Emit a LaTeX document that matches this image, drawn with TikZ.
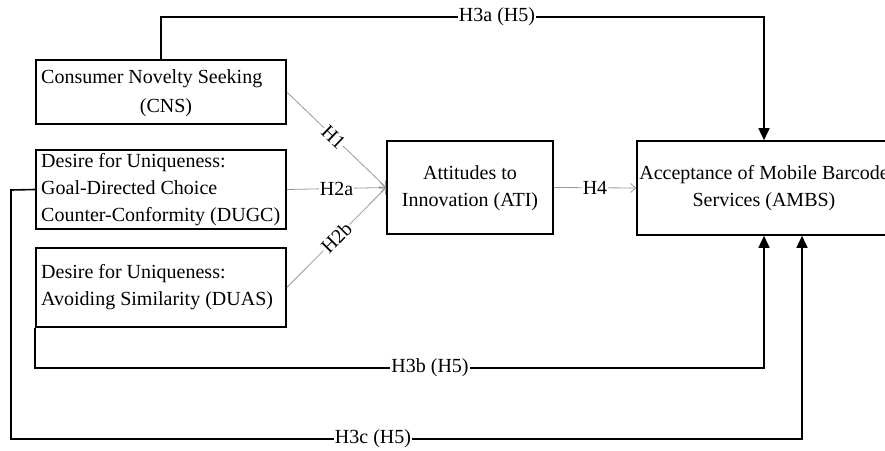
\documentclass[tikz,border=0pt]{standalone}
\usepackage{fontspec}
\setmainfont{Liberation Serif}
\usetikzlibrary{arrows.meta}
\begin{document}
\begin{tikzpicture}[x=1pt,y=-1pt,
  box/.style={draw, line width=1.6pt, inner sep=0pt, minimum width=#1},
  txt/.style={font=\fontsize{20}{27}\selectfont, inner sep=0pt},
  conn/.style={line width=1.6pt, -{Triangle[length=12pt,width=11pt]}},
  hyp/.style={draw=black!40, line width=0.8pt, -{Straight Barb[length=5pt,width=9pt]}},
  lab/.style={font=\fontsize{20}{24}\selectfont, fill=white, inner sep=1pt}]
\useasboundingbox (0,0) rectangle (885,450);
\clip (0,0) rectangle (885,450);
% boxes
\node[box=250pt, minimum height=64pt] (cns) at (161,92) {};
\node[box=250pt, minimum height=79pt] (dugc) at (161,189.5) {};
\node[box=250pt, minimum height=79pt] (duas) at (161,287.5) {};
\node[box=166pt, minimum height=93pt] (ati) at (470,187.5) {};
\node[box=254pt, minimum height=94pt] (ambs) at (764,188) {};
% texts
\node[txt, anchor=west] (cnsa) at (41,79) {Consumer Novelty Seeking};
\node[txt] (cnsb) at (166,108) {(CNS)};
\node[txt, anchor=west, align=left] (dugct) at (41,190) {Desire for Uniqueness:\\Goal-Directed Choice\\Counter-Conformity (DUGC)};
\node[txt, anchor=west, align=left] (duast) at (41,287) {Desire for Uniqueness:\\Avoiding Similarity (DUAS)};
\node[txt, align=center] (atit) at (470,188) {Attitudes to\\Innovation (ATI)};
\node[txt, align=center] (ambst) at (764,188) {Acceptance of Mobile Barcode\\Services (AMBS)};
% hypothesis arrows
\draw[hyp] (cns.east) -- node[lab, sloped, pos=0.47] (h1) {H1} (ati.west);
\draw[hyp] (dugc.east) -- node[lab, pos=0.5] (h2a) {H2a} (ati.west);
\draw[hyp] (duas.east) -- node[lab, sloped, pos=0.5] (h2b) {H2b} (ati.west);
\draw[hyp] (ati.east) -- node[lab, pos=0.5] (h4) {H4} (ambs.west);
% direct paths
\coordinate (a1) at (cns.north |- 0,17);
\draw[conn] (cns.north) -- (a1) -| (ambs.north);
\node[lab] (h3a) at (497,17) {H3a (H5)};
\coordinate (b1) at (duas.south west |- 0,368);
\draw[conn] (duas.south west) -- (b1) -| (ambs.south);
\node[lab] (h3b) at (430,368) {H3b (H5)};
\coordinate (c1) at (11,190);
\coordinate (c2) at (11,439);
\coordinate (c3) at ([xshift=38pt]ambs.south);
\draw[conn] (dugc.west) -- (c1) -- (c2) -| (c3);
\node[lab] (h3c) at (373,439) {H3c (H5)};
\end{tikzpicture}
\end{document}
